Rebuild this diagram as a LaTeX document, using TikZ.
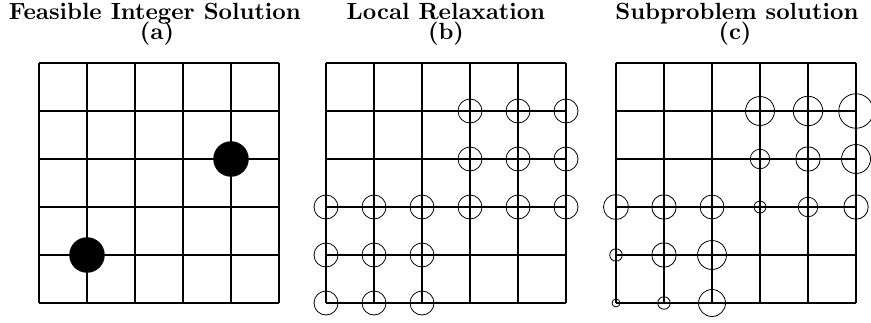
\documentclass[tikz,border=0pt]{standalone}
\font\ttlfont=cmbx10 at 23.4pt
\begin{document}
\begin{tikzpicture}[x=1pt,y=-1pt,
  gridline/.style={line width=1.1pt,black},
  ttl/.style={font=\ttlfont,inner sep=0pt,anchor=base,text depth=0pt},
  sub/.style={font=\ttlfont,inner sep=0pt,anchor=base,text height=14pt},
  solpt/.style={circle,fill=black,inner sep=0pt,minimum size=35.5pt},
  relpt/.style={circle,draw=black,line width=0.8pt,inner sep=0pt,minimum size=24pt},
  subpt/.style={circle,draw=black,line width=0.8pt,inner sep=0pt,minimum size=#1}]
\useasboundingbox (0,0) rectangle (871,322);
% titles
\node[ttl] (ta) at (155,19.5) {Feasible Integer Solution};
\node[sub] (la) at (157,39.5) {(a)};
\node[ttl] (tb) at (446,19.5) {Local Relaxation};
\node[sub] (lb) at (446,39.5) {(b)};
\node[ttl] (tc) at (737,19.5) {Subproblem solution};
\node[sub] (lc) at (735,39.5) {(c)};
% grids
\foreach \ox in {39,326,616} {
  \foreach \i in {0,...,5} {
    \draw[gridline] (\ox+\i*48,63) -- (\ox+\i*48,303);
    \draw[gridline] (\ox,63+\i*48) -- (\ox+240,63+\i*48);
  }
}
% (a) feasible integer solution
\node[solpt] (a1) at (231,159) {};
\node[solpt] (a2) at (87,255) {};
% (b) local relaxation
\foreach \c/\r [count=\k] in {3/1,4/1,5/1,3/2,4/2,5/2,0/3,1/3,2/3,3/3,4/3,5/3,0/4,1/4,2/4,0/5,1/5,2/5} {
  \node[relpt] (b\k) at (326+\c*48,63+\r*48) {};
}
% (c) subproblem solution
\foreach \c/\r/\d [count=\k] in {3/1/29,4/1/29.5,5/1/34.5,3/2/19.5,4/2/24.5,5/2/29,0/3/25,1/3/24.5,2/3/24,3/3/12,4/3/19.5,5/3/24.5,0/4/12.5,1/4/24.5,2/4/29,0/5/8,1/5/12.5,2/5/27} {
  \node[subpt=\d pt] (c\k) at (616+\c*48,63+\r*48) {};
}
\end{tikzpicture}
\end{document}
